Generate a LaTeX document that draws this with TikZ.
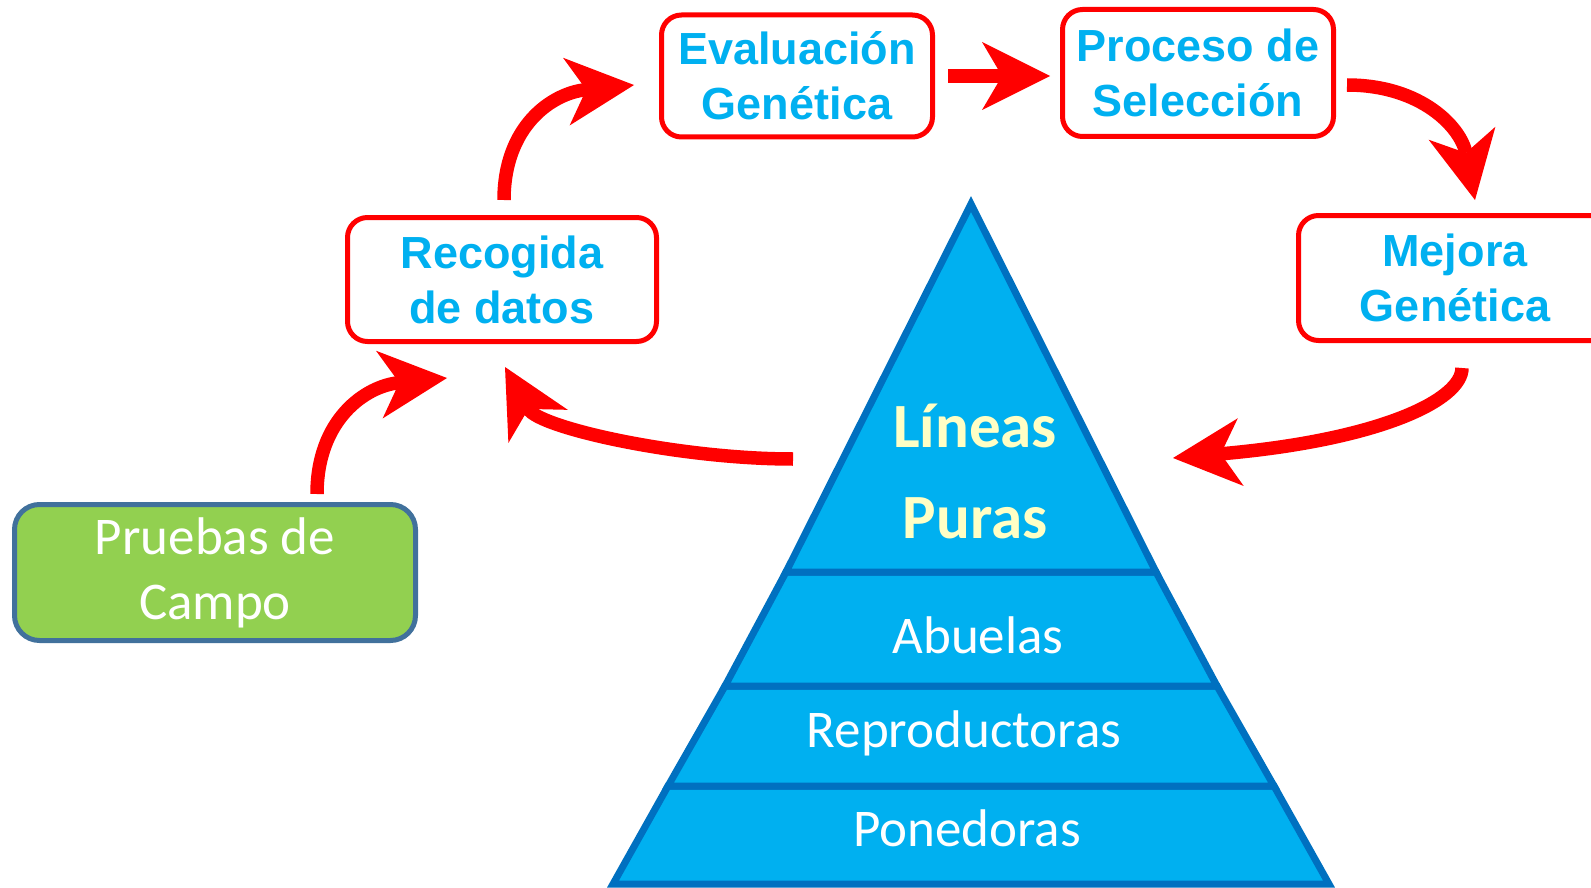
\documentclass[tikz,border=0pt]{standalone}
\usepackage{fontspec}
\setmainfont{Liberation Sans}
\newfontfamily\calibri{Carlito}
\usepackage{tikz}
\usetikzlibrary{arrows.meta}

\definecolor{boxred}{HTML}{FF0000}
\definecolor{txtblue}{HTML}{00B0F0}
\definecolor{pyrfill}{HTML}{00B0F0}
\definecolor{pyrline}{HTML}{0070C0}
\definecolor{campo}{HTML}{92D050}
\definecolor{campoline}{HTML}{41719C}
\definecolor{lineascol}{HTML}{FFFFC5}

\tikzset{
  paso/.style={draw=boxred, line width=5pt, rounded corners=20pt, fill=white,
    align=center, text=txtblue, inner sep=0pt,
    font=\fontsize{45}{55}\selectfont\bfseries},
  flecha/.style={draw=boxred, line width=13.5pt,
    -{Stealth[length=68pt, width=68pt, inset=20pt, line width=0pt]}},
  nivel/.style={fill=pyrfill, draw=pyrline, line width=7pt, line join=miter},
  etiqueta/.style={text=white, font=\calibri\fontsize{53}{65}\selectfont, anchor=base},
  cima/.style={text=lineascol, font=\calibri\bfseries\fontsize{63}{63}\selectfont, anchor=base},
}

\begin{document}
\begin{tikzpicture}[x=1pt, y=-1pt]
\clip (0,0) rectangle (1591,888);

\draw[nivel] (613,884) -- (1329,884) -- (1274,786) -- (668,786) -- cycle;
\draw[nivel] (668,786) -- (1274,786) -- (1217,686) -- (725,686) -- cycle;
\draw[nivel] (725,686) -- (1217,686) -- (1156,572) -- (786,572) -- cycle;
\draw[nivel] (786,572) -- (1156,572) -- (971,204) -- cycle;

\node[cima] (lineas) at (975,447) {Líneas};
\node[cima] (puras) at (975,538) {Puras};
\node[etiqueta] (abuelas) at (978,653) {Abuelas};
\node[etiqueta] (repro) at (964,747) {Reproductoras};
\node[etiqueta] (poned) at (967,846) {Ponedoras};

\coordinate (pyrR) at (1173,458);
\coordinate (pyrL) at (793,459);

\node[paso, minimum width=271pt, minimum height=122pt] (eval) at (797,76) {Evaluación\\Genética};
\node[paso, minimum width=271pt, minimum height=127pt] (proc) at (1198,73) {Proceso de\\Selección};
\node[paso, minimum width=309pt, minimum height=124pt] (recog) at (502,279.5) {Recogida\\de datos};
\node[paso, minimum width=313pt, minimum height=125pt] (mejora) at (1455,278) {Mejora\\Genética};
\node[draw=campoline, fill=campo, line width=5pt, rounded corners=25pt,
  minimum width=401pt, minimum height=136pt, inner sep=0pt, align=center,
  text=white, font=\calibri\fontsize{53}{65}\selectfont] (pruebas) at (215,572.5) {\raisebox{-3pt}{Pruebas de}\\\raisebox{-3pt}{Campo}};

\draw[flecha] ([shift={(102,-8)}]pruebas.north) .. controls +(0,-74) and +(-82,8) .. ([shift={(-55,34)}]recog.south);
\draw[flecha] ([shift={(2,-15)}]recog.north) .. controls +(0,-74) and +(-82,8) .. ([shift={(-25,9)}]eval.west);
\draw[flecha] ([shift={(13,0)}]eval.east) -- ([shift={(-10,3)}]proc.west);
\draw[flecha] ([shift={(11,12)}]proc.east) .. controls +(75,0) and +(-14,-72) .. ([shift={(20,-13)}]mejora.north);
\draw[flecha] ([shift={(7,25)}]mejora.south) .. controls +(0,32) and +(207,-18) .. (pyrR);
\draw[flecha] (pyrL) .. controls +(-113,0) and +(34,61) .. ([shift={(3,23)}]recog.south);
\end{tikzpicture}
\end{document}
